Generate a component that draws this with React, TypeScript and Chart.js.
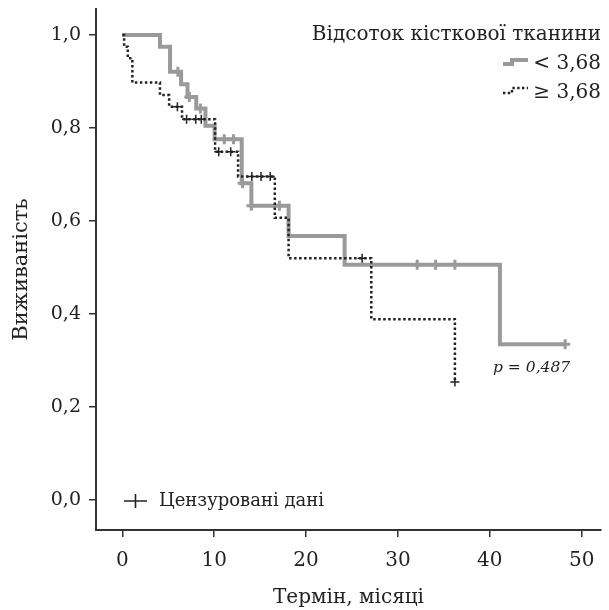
import React, { useEffect, useRef } from "react";
import { Chart, registerables } from "chart.js";
Chart.register(...registerables);

const FONT = '"DejaVu Serif", serif';
const TEXT = "#222";
const GRAY = "#9a9a9a";

const xTicks = [0, 10, 20, 30, 40, 50];
const yTicks = [0, 0.2, 0.4, 0.6, 0.8, 1.0];

const legendTitle = "Відсоток кісткової тканини";
const seriesNames = ["< 3,68", "≥ 3,68"];
const censorLabel = "Цензуровані дані";
const pValueText = "p = 0,487";
const xTitle = "Термін, місяці";
const yTitle = "Виживаність";

// Group "< 3,68" (grey solid)
const lowTimes = [0, 4.1, 5.2, 6.4, 7.1, 8.05, 9.05, 10.05, 13.0, 14.05, 18.1, 24.2, 41.1, 48.2];
const lowSurv = [1.0, 0.975, 0.921, 0.894, 0.867, 0.842, 0.805, 0.776, 0.681, 0.633, 0.568, 0.506, 0.335, 0.335];
const lowCensTimes = [6.05, 7.3, 8.5, 11.1, 12.1, 13.1, 14.05, 17.1, 32.1, 34.1, 36.2, 48.2];
const lowCensSurv = [0.921, 0.867, 0.842, 0.776, 0.776, 0.681, 0.633, 0.633, 0.506, 0.506, 0.506, 0.335];

// Group "≥ 3,68" (black dotted)
const highTimes = [0, 0.2, 0.6, 1.1, 4.1, 5.1, 6.5, 10.1, 12.6, 16.6, 18.1, 27.1, 36.2];
const highSurv = [1.0, 0.975, 0.95, 0.898, 0.871, 0.846, 0.819, 0.749, 0.696, 0.607, 0.52, 0.389, 0.254];
const highCensTimes = [6.0, 7.0, 8.0, 8.6, 10.5, 11.8, 14.1, 15.1, 16.1, 26.1, 36.2];
const highCensSurv = [0.846, 0.819, 0.819, 0.819, 0.749, 0.749, 0.696, 0.696, 0.696, 0.52, 0.254];

const pts = (xs: number[], ys: number[]) => xs.map((x, i) => ({ x, y: ys[i] }));
const fmtY = (v: number) => v.toFixed(1).replace(".", ",");

const overlayPlugin = {
  id: "overlay",
  afterDraw(chart: any) {
    const ctx = chart.ctx as CanvasRenderingContext2D;
    ctx.save();
    ctx.fillStyle = TEXT;
    ctx.textBaseline = "middle";
    ctx.font = `20px ${FONT}`;
    ctx.textAlign = "right";
    ctx.fillText(legendTitle, 601, 35);
    ctx.fillText(seriesNames[0], 601, 64);
    ctx.fillText(seriesNames[1], 601, 93);

    // grey step icon
    ctx.strokeStyle = GRAY;
    ctx.lineWidth = 4;
    ctx.beginPath();
    ctx.moveTo(503, 64);
    ctx.lineTo(512, 64);
    ctx.lineTo(512, 60);
    ctx.lineTo(528, 60);
    ctx.stroke();

    // dotted step icon
    ctx.strokeStyle = TEXT;
    ctx.lineWidth = 2.4;
    ctx.setLineDash([2.4, 2.4]);
    ctx.beginPath();
    ctx.moveTo(503, 93);
    ctx.lineTo(512, 93);
    ctx.lineTo(512, 88);
    ctx.lineTo(528, 88);
    ctx.stroke();
    ctx.setLineDash([]);

    // censored legend
    ctx.strokeStyle = TEXT;
    ctx.lineWidth = 1.6;
    ctx.beginPath();
    ctx.moveTo(124, 501);
    ctx.lineTo(147, 501);
    ctx.moveTo(135.5, 494);
    ctx.lineTo(135.5, 508);
    ctx.stroke();
    ctx.textAlign = "left";
    ctx.font = `18px ${FONT}`;
    ctx.fillText(censorLabel, 159, 501);

    ctx.font = `italic 15.5px ${FONT}`;
    ctx.fillText(pValueText, 493, 368);
    ctx.restore();
  },
};

export default function App() {
  const ref = useRef<HTMLCanvasElement>(null);
  useEffect(() => {
    if (!ref.current) return;
    const chart = new Chart(ref.current, {
      type: "scatter",
      data: {
        datasets: [
          {
            label: "high-cens",
            data: pts(highCensTimes, highCensSurv),
            showLine: false,
            pointStyle: "cross",
            pointRadius: 4.5,
            pointBorderWidth: 1.5,
            pointBorderColor: TEXT,
            pointBackgroundColor: TEXT,
          },
          {
            label: seriesNames[1],
            data: pts(highTimes, highSurv),
            showLine: true,
            stepped: "before",
            borderColor: TEXT,
            borderWidth: 2.5,
            borderDash: [2.5, 2.5],
            pointRadius: 0,
            fill: false,
          },
          {
            label: "low-cens",
            data: pts(lowCensTimes, lowCensSurv),
            showLine: false,
            pointStyle: "cross",
            pointRadius: 5,
            pointBorderWidth: 3,
            pointBorderColor: GRAY,
            pointBackgroundColor: GRAY,
          },
          {
            label: seriesNames[0],
            data: pts(lowTimes, lowSurv),
            showLine: true,
            stepped: "before",
            borderColor: GRAY,
            borderWidth: 4,
            pointRadius: 0,
            fill: false,
          },
        ],
      },
      options: {
        animation: false,
        responsive: false,
        maintainAspectRatio: false,
        layout: { padding: { top: 9, right: 0, left: 0, bottom: 0 } },
        plugins: { legend: { display: false }, tooltip: { enabled: false } },
        scales: {
          x: {
            type: "linear",
            min: -2.86,
            max: 52.1,
            afterBuildTicks: (s: any) => {
              s.ticks = xTicks.map((v) => ({ value: v }));
            },
            afterFit: (s: any) => {
              s.height = 80;
              s.paddingLeft = 0;
              s.paddingRight = 0;
            },
            grid: { display: true, drawOnChartArea: false, drawTicks: true, tickLength: 7, color: "#333", lineWidth: 1.5 },
            border: { display: true, color: "#333", width: 2 },
            ticks: {
              font: { family: FONT, size: 20 },
              color: TEXT,
              padding: 12,
              maxRotation: 0,
              autoSkip: false,
              callback: (v: any) => String(v),
            },
            title: { display: true, text: xTitle, font: { family: FONT, size: 20 }, color: TEXT, padding: { top: 0, bottom: 0 } },
          },
          y: {
            type: "linear",
            min: -0.0645,
            max: 1.056,
            afterBuildTicks: (s: any) => {
              s.ticks = yTicks.map((v) => ({ value: v }));
            },
            afterFit: (s: any) => {
              s.width = 96;
              s.paddingTop = 0;
              s.paddingBottom = 0;
            },
            grid: { display: true, drawOnChartArea: false, drawTicks: true, tickLength: 7, color: "#333", lineWidth: 1.5 },
            border: { display: true, color: "#333", width: 2 },
            ticks: {
              font: { family: FONT, size: 19 },
              color: TEXT,
              padding: 8,
              autoSkip: false,
              callback: (v: any) => fmtY(Number(v)),
            },
            title: { display: true, text: yTitle, font: { family: FONT, size: 21 }, color: TEXT, padding: { top: 9, bottom: 0 } },
          },
        },
      },
      plugins: [overlayPlugin],
    } as any);
    return () => chart.destroy();
  }, []);
  return (
    <div style={{ position: "absolute", left: 0, top: 0, width: 609, height: 610, background: "#fff" }}>
      <canvas ref={ref} width={609} height={610} style={{ display: "block", width: 609, height: 610 }} />
    </div>
  );
}
